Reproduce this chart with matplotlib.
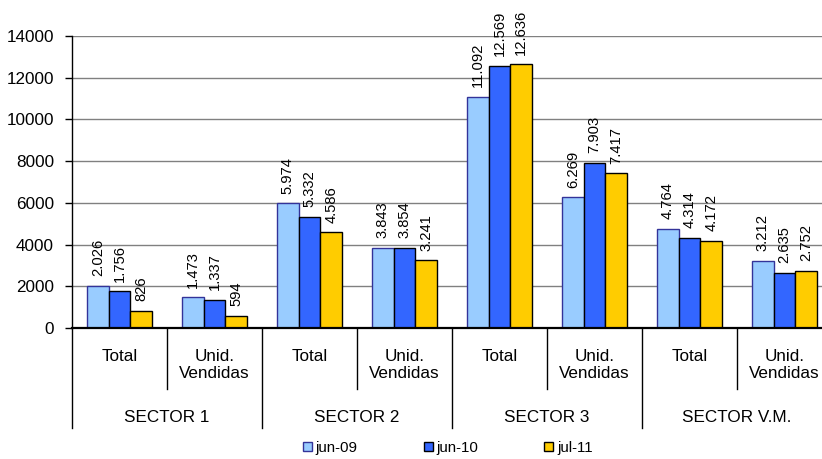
import matplotlib
matplotlib.use("Agg")
import matplotlib.pyplot as plt
import matplotlib.transforms as mtransforms
from matplotlib.patches import Patch
import numpy as np

plt.rcParams['font.family'] = ['Liberation Sans', 'DejaVu Sans']

sectors = ["SECTOR 1", "SECTOR 2", "SECTOR 3", "SECTOR V.M."]
sub_labels = ["Total", "Unid.\nVendidas"]
series_names = ["jun-09", "jun-10", "jul-11"]
jun09 = [2026, 1473, 5974, 3843, 11092, 6269, 4764, 3212]
jun10 = [1756, 1337, 5332, 3854, 12569, 7903, 4314, 2635]
jul11 = [826, 594, 4586, 3241, 12636, 7417, 4172, 2752]
yticks = [0, 2000, 4000, 6000, 8000, 10000, 12000, 14000]

colors = ["#99CCFF", "#3366FF", "#FFCC00"]
edges = ["#333399", "#000000", "#000000"]

W, H = 822, 459
fig = plt.figure(figsize=(W / 100, H / 100), dpi=100)
ax = fig.add_axes([72 / W, (H - 328) / H, 760 / W, 292 / H])

n = len(jun09)
x = np.arange(n)
bw = 0.228
series = [jun09, jun10, jul11]
for i, (vals, c, ec, name) in enumerate(zip(series, colors, edges, series_names)):
    bars = ax.bar(x + (i - 1) * bw, vals, width=bw, color=c, edgecolor=ec,
                  linewidth=1.0, zorder=3, label=name)
    for b, v in zip(bars, vals):
        ax.annotate(f"{v:,}".replace(",", "."),
                    (b.get_x() + b.get_width() / 2, b.get_height()),
                    xytext=(0, 7), textcoords="offset points",
                    rotation=90, ha="center", va="bottom", fontsize=10.6,
                    color="black", zorder=4)

ax.set_xlim(-0.5, n - 0.5)
ax.set_ylim(0, 14000)
ax.set_yticks(yticks)
ax.set_yticklabels([str(t) for t in yticks], fontsize=12.3)
ax.tick_params(axis="y", direction="out", length=5, width=1, pad=8, colors="black")
ax.set_xticks([])
ax.grid(axis="y", color="#808080", linewidth=1.0, zorder=0)
ax.set_axisbelow(True)
for s in ["top", "right"]:
    ax.spines[s].set_visible(False)
ax.spines["left"].set_color("black")
ax.spines["left"].set_linewidth(1.0)
ax.spines["bottom"].set_color("black")
ax.spines["bottom"].set_linewidth(1.6)
ax.spines["bottom"].set_zorder(5)

trans = mtransforms.blended_transform_factory(ax.transData, ax.transAxes)
# subcategory labels
for k in range(n):
    ax.text(x[k], -0.072, sub_labels[k % 2], transform=trans, ha="center",
            va="top", fontsize=12.3, linespacing=1.2, clip_on=False)
# sector labels
for s, name in enumerate(sectors):
    ax.text(2 * s + 0.5, -0.322, name, transform=trans, ha="center",
            va="baseline", fontsize=12.3, clip_on=False)
# separators
for b in range(n + 1):
    xb = b - 0.5
    ybot = -0.342 if b % 2 == 0 else -0.209
    ax.plot([xb, xb], [0, ybot], transform=trans, color="black",
            linewidth=1.0, clip_on=False, zorder=5)

handles = [Patch(facecolor=c, edgecolor=ec, linewidth=1.0) for c, ec in zip(colors, edges)]
fig.legend(handles, series_names, loc="center", bbox_to_anchor=(0.545, 0.024),
           ncol=3, frameon=False, fontsize=10.8, handlelength=0.6,
           handleheight=0.6, handletextpad=0.25, columnspacing=4.4,
           borderaxespad=0, borderpad=0)

fig.savefig("out.png", dpi=100)
